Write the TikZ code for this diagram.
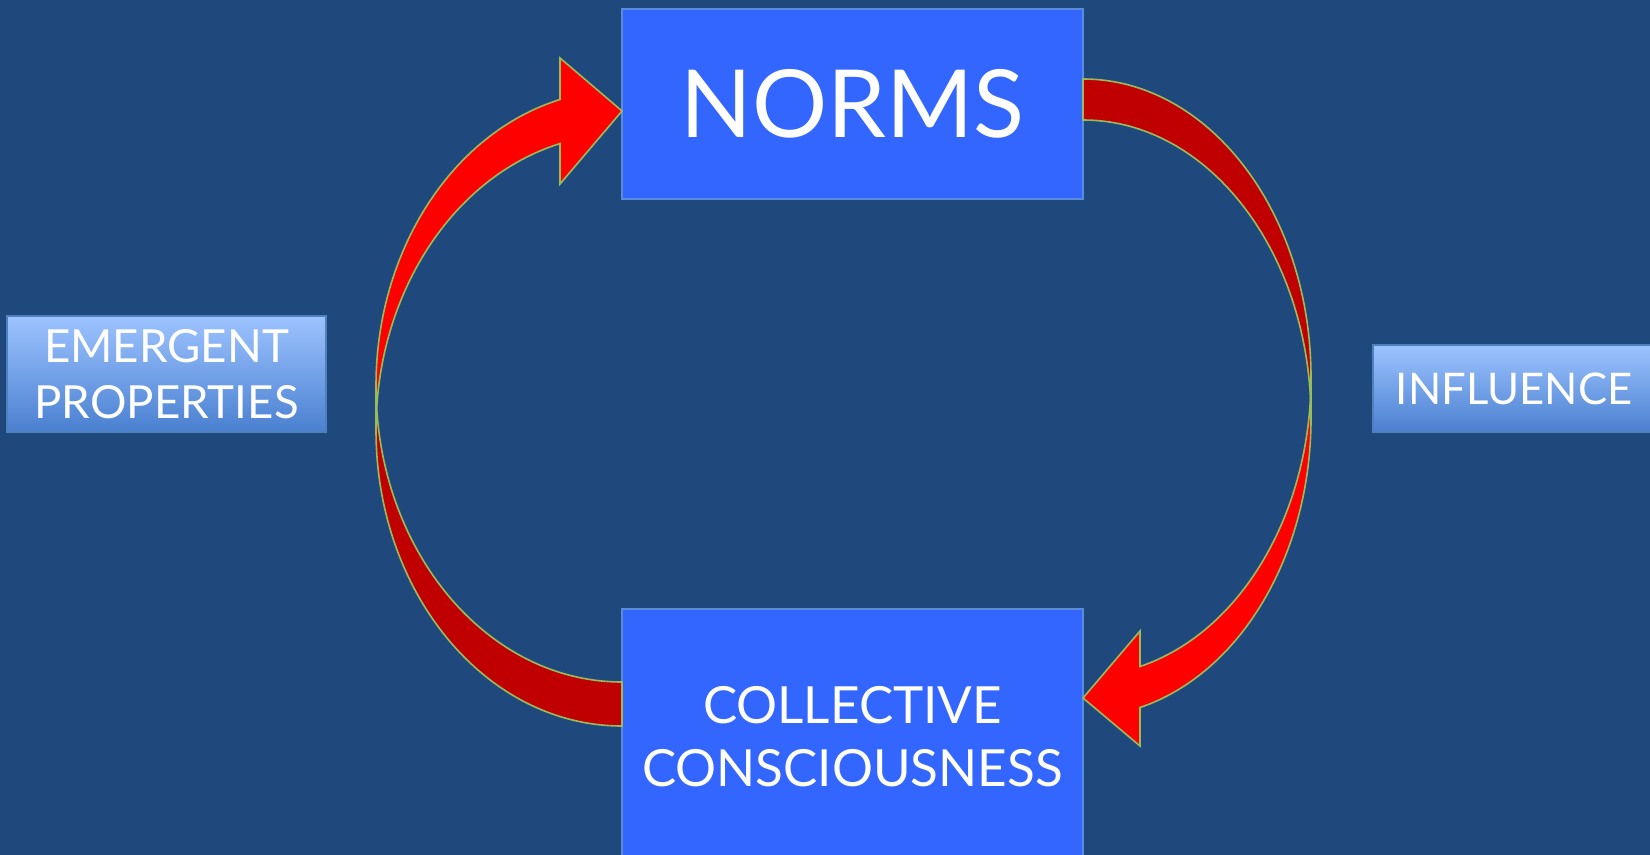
\documentclass[tikz,border=0pt]{standalone}
\usepackage{fontspec}
\setmainfont{Lato}
\definecolor{bg}{HTML}{1F497D}
\definecolor{boxfill}{HTML}{3366FF}
\definecolor{boxedge}{HTML}{5B8BD9}
\definecolor{arrowred}{HTML}{FF0000}
\definecolor{arrowdark}{HTML}{C00000}
\definecolor{arrowedge}{HTML}{9BBB59}
\definecolor{lbltop}{HTML}{9DC3FF}
\definecolor{lblbot}{HTML}{4A80D0}
\definecolor{lbledge}{HTML}{4F81BD}
\tikzset{
  bigbox/.style={draw=boxedge, line width=1pt, fill=boxfill, text=white, inner sep=0pt, align=center},
  lblbox/.style={draw=lbledge, line width=1.2pt, top color=lbltop, bottom color=lblbot, text=white, inner sep=0pt, align=center},
  bandfront/.style={fill=arrowred, draw=arrowedge, line width=0.8pt, line join=miter},
  bandback/.style={fill=arrowdark, draw=arrowedge, line width=0.8pt},
}
\begin{document}
\begin{tikzpicture}[x=0.5pt, y=-0.5pt]
\useasboundingbox (0,0) rectangle (1650,855);
\fill[bg] (0,0) rectangle (1650,855);

% main boxes
\node[bigbox, minimum width=230.5pt, minimum height=95pt,
      font=\fontsize{47}{50}\selectfont] (norms) at (852.5,104) {NORMS};
\node[bigbox, minimum width=230.5pt, minimum height=127.5pt,
      font=\fontsize{25.6}{31.5}\selectfont] (cc) at (852.5,736.5)
  {COLLECTIVE\\CONSCIOUSNESS};

% side labels
\node[lblbox, minimum width=159.5pt, minimum height=58pt,
      font=\fontsize{22.8}{28}\selectfont] (emerg) at (166.5,374)
  {EMERGENT\\PROPERTIES};
\node[lblbox, minimum width=141pt, minimum height=43.5pt,
      font=\fontsize{21.8}{28}\selectfont] (infl) at (1514,388.5) {INFLUENCE};

% ---- left curved arrow (from cc up to norms) ----
% two congruent ellipses, rx 246, ry 296, centres (622,430) and (622,386)
\coordinate (lTailB) at (622,726);
\coordinate (lLeft1) at (376,430);
\coordinate (lLeft2) at (376,386);
\coordinate (lHeadT) at (560,58);
\coordinate (lHeadD) at (560,184);
\coordinate (lHeadO) at (560,99.5);
\coordinate (lTip) at (622,111);

\draw[bandback] (lTailB) arc[start angle=90, end angle=180, x radius=246, y radius=296]
  -- (lLeft2) arc[start angle=180, end angle=90, x radius=246, y radius=296] -- cycle;
\draw[bandfront] (lLeft1) arc[start angle=180, end angle=255.4, x radius=246, y radius=296]
  -- (lHeadD) -- (lTip) -- (lHeadT) -- (lHeadO)
  arc[start angle=255.4, end angle=180, x radius=246, y radius=296] -- cycle;

% ---- right curved arrow (from norms down to cc) ----
% two congruent ellipses, rx 228, ry 298.5, centres (1083,377.5) and (1083,418.5)
\coordinate (rTailT) at (1083,79);
\coordinate (rRight1) at (1311,377.5);
\coordinate (rRight2) at (1311,418.5);
\coordinate (rHeadT) at (1140,631);
\coordinate (rHeadD) at (1140,746);
\coordinate (rHeadO) at (1140,707.5);
\coordinate (rTip) at (1083,698);

\draw[bandback] (rTailT) arc[start angle=270, end angle=360, x radius=228, y radius=298.5]
  -- (rRight2) arc[start angle=0, end angle=-90, x radius=228, y radius=298.5] -- cycle;
\draw[bandfront] (rRight1) arc[start angle=0, end angle=75.52, x radius=228, y radius=298.5]
  -- (rHeadT) -- (rTip) -- (rHeadD) -- (rHeadO)
  arc[start angle=75.52, end angle=0, x radius=228, y radius=298.5] -- cycle;
\end{tikzpicture}
\end{document}
